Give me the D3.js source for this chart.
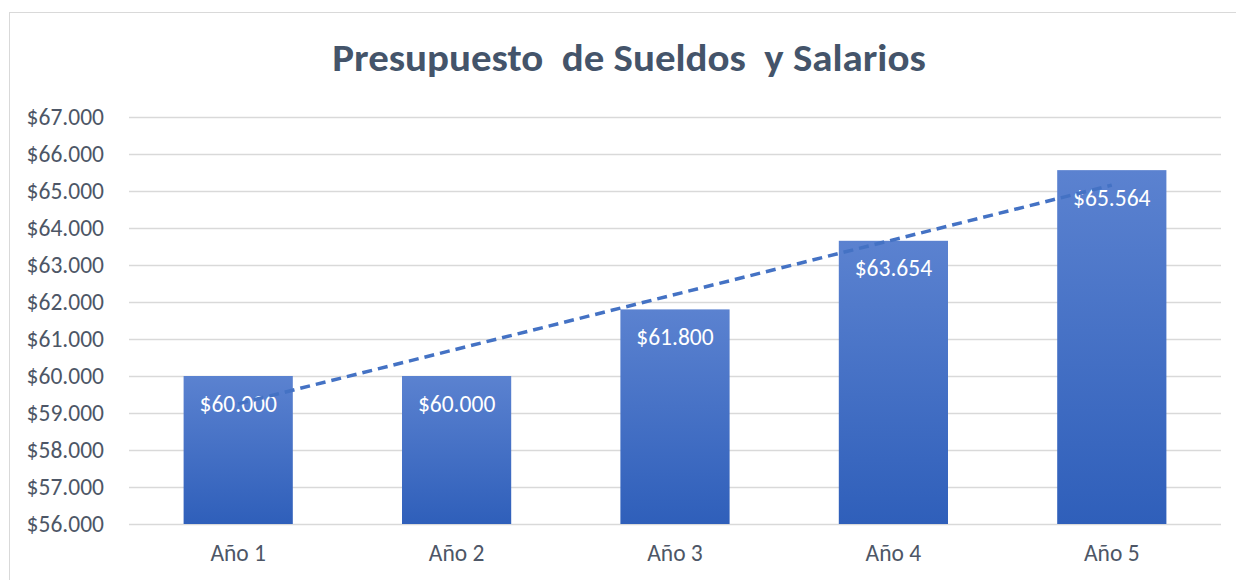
<!DOCTYPE html>
<html>
<head>
<meta charset="utf-8">
<script src="https://cdn.jsdelivr.net/npm/d3@7"></script>
<style>
  body { margin: 0; background: #fff; }
  text { font-family: Carlito, "Liberation Sans", Arial, sans-serif; }
</style>
</head>
<body>
<div id="chart"></div>
<script>
// data
const categories = ['Año 1', 'Año 2', 'Año 3', 'Año 4', 'Año 5'];
const values = [60000, 60000, 61800, 63654, 65564];
const yTicks = [56000, 57000, 58000, 59000, 60000, 61000, 62000, 63000, 64000, 65000, 66000, 67000];
const title = 'Presupuesto\u00a0 de Sueldos\u00a0 y Salarios';

// general settings
const width = 1236, height = 580;
const margin = { top: 117, right: 15, bottom: 56, left: 129 };
const fmt = v => '$' + d3.format(',')(v).replace(/,/g, '.');

const svg = d3.select('#chart').append('svg')
    .attr('width', width)
    .attr('height', height);

// chart border
svg.append('rect')
    .attr('x', 9.5).attr('y', 12.5)
    .attr('width', width).attr('height', height)
    .attr('fill', 'none')
    .attr('stroke', '#d9d9d9');

const x = d3.scaleBand()
    .domain(categories)
    .range([margin.left, width - margin.right])
    .paddingInner(0.5)
    .paddingOuter(0.25);

const y = d3.scaleLinear()
    .domain([56000, 67000])
    .range([height - margin.bottom, margin.top]);

// gradient for bars
const grad = svg.append('defs').append('linearGradient')
    .attr('id', 'barGrad')
    .attr('x1', 0).attr('y1', 0).attr('x2', 0).attr('y2', 1);
grad.append('stop').attr('offset', '0%').attr('stop-color', '#5b82d0');
grad.append('stop').attr('offset', '100%').attr('stop-color', '#2f5fba');

// title (slightly wide, like the original)
svg.append('text')
    .attr('transform', 'translate(629,71) scale(1.05,1)')
    .attr('text-anchor', 'middle')
    .attr('fill', '#44546a')
    .attr('font-size', 39)
    .attr('font-weight', 'bold')
    .text(title);

// gridlines + y labels
const yAxis = svg.append('g')
    .attr('transform', `translate(${margin.left},0)`)
    .call(d3.axisLeft(y).tickValues(yTicks).tickFormat(fmt)
        .tickSize(-(width - margin.left - margin.right)).tickPadding(25));
yAxis.select('.domain').remove();
yAxis.selectAll('line').attr('stroke', '#d9d9d9').attr('stroke-width', 1.3);
yAxis.selectAll('text')
    .attr('fill', '#4d5666')
    .attr('font-size', 23.5);

// bars
svg.selectAll('.bar')
    .data(values)
    .join('rect')
    .attr('class', 'bar')
    .attr('x', (d, i) => x(categories[i]))
    .attr('y', d => y(d))
    .attr('width', x.bandwidth())
    .attr('height', d => y(56000) - y(d))
    .attr('fill', 'url(#barGrad)');

// x labels
const xAxis = svg.append('g')
    .attr('transform', `translate(0,${height - margin.bottom})`)
    .call(d3.axisBottom(x).tickSize(0).tickPadding(20));
xAxis.select('.domain').remove();
xAxis.selectAll('text')
    .attr('fill', '#4d5666')
    .attr('font-size', 23.5);

// data labels
svg.selectAll('.label')
    .data(values)
    .join('text')
    .attr('class', 'label')
    .attr('x', (d, i) => x(categories[i]) + x.bandwidth() / 2)
    .attr('y', d => y(d) + 35.5)
    .attr('text-anchor', 'middle')
    .attr('fill', '#fff')
    .attr('font-size', 23.5)
    .text(fmt);

// linear trendline (least squares over category index)
const xs = values.map((d, i) => i + 1);
const mx = d3.mean(xs), my = d3.mean(values);
const slope = d3.sum(xs, (v, i) => (v - mx) * (values[i] - my)) / d3.sum(xs, v => (v - mx) ** 2);
const intercept = my - slope * mx;
const cx = i => x(categories[i]) + x.bandwidth() / 2;
svg.append('line')
    .attr('x1', cx(0)).attr('y1', y(intercept + slope * 1))
    .attr('x2', cx(4)).attr('y2', y(intercept + slope * 5))
    .attr('stroke', '#4472c4')
    .attr('stroke-width', 3.5)
    .attr('stroke-dasharray', '10 6');
</script>
</body>
</html>
